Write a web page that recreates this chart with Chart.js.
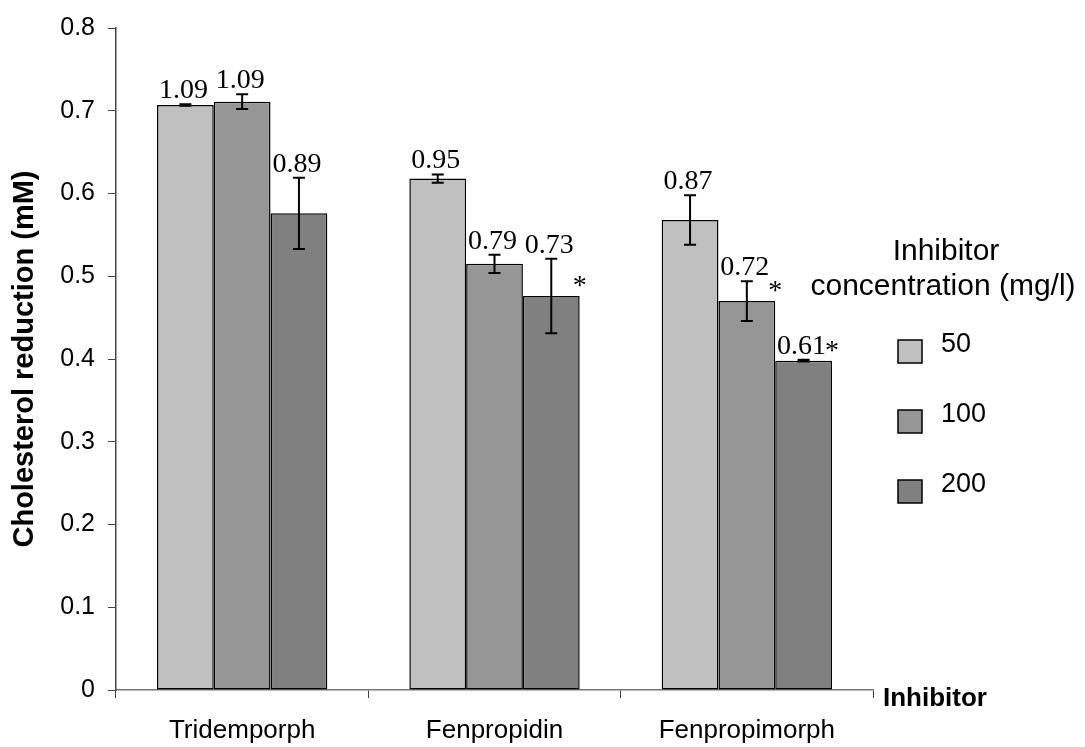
<!DOCTYPE html>
<html>
<head>
<meta charset="utf-8">
<script src="https://cdn.jsdelivr.net/npm/chart.js@4/dist/chart.umd.min.js"></script>
<style>
  body { margin: 0; background: #fff; }
  #wrap { width: 1085px; height: 747px; }
</style>
</head>
<body>
<div id="wrap"><canvas id="chart" width="1085" height="747"></canvas></div>
<script>
// data
const categories = ["Tridemporph", "Fenpropidin", "Fenpropimorph"];
const seriesNames = ["50", "100", "200"];
const conc50 = [0.707, 0.618, 0.568];
const conc100 = [0.711, 0.515, 0.470];
const conc200 = [0.576, 0.476, 0.398];
const err50 = [0.001, 0.005, 0.030];
const err100 = [0.009, 0.011, 0.024];
const err200 = [0.043, 0.045, 0.001];
const labels50 = ["1.09", "0.95", "0.87"];
const labels100 = ["1.09", "0.79", "0.72"];
const labels200 = ["0.89", "0.73", "0.61"];
const stars50 = [false, false, false];
const stars100 = [false, false, true];
const stars200 = [false, true, true];
const yTicks = [0, 0.1, 0.2, 0.3, 0.4, 0.5, 0.6, 0.7, 0.8];

const colors = ["#c0c0c0", "#969696", "#808080"];
const errs = [err50, err100, err200];
const valLabels = [labels50, labels100, labels200];
const stars = [stars50, stars100, stars200];

const sans = "'Liberation Sans', Arial, sans-serif";
const serif = "'Liberation Serif', 'Times New Roman', serif";

// error bars, value labels and stars
const extras = {
  id: "extras",
  afterDatasetsDraw(chart) {
    const ctx = chart.ctx;
    const y = chart.scales.y;
    ctx.save();
    chart.data.datasets.forEach((ds, di) => {
      const meta = chart.getDatasetMeta(di);
      meta.data.forEach((bar, i) => {
        const v = ds.data[i];
        const e = errs[di][i];
        const top = y.getPixelForValue(v + e);
        const bot = y.getPixelForValue(v - e);
        ctx.strokeStyle = "#000";
        ctx.lineWidth = 2;
        ctx.beginPath();
        ctx.moveTo(bar.x, top); ctx.lineTo(bar.x, bot);
        ctx.moveTo(bar.x - 6, top); ctx.lineTo(bar.x + 6, top);
        ctx.moveTo(bar.x - 6, bot); ctx.lineTo(bar.x + 6, bot);
        ctx.stroke();

        ctx.fillStyle = "#000";
        ctx.font = "28px " + serif;
        ctx.textAlign = "center";
        ctx.textBaseline = "alphabetic";
        ctx.fillText(valLabels[di][i], bar.x - 2, top - 6);

        if (stars[di][i]) {
          const half = bar.width / 2;
          ctx.font = "28px " + serif;
          ctx.textBaseline = "middle";
          ctx.fillText("*", bar.x + half, bar.y - 9);
        }
      });
    });

    // x axis name
    ctx.font = "bold 26px " + sans;
    ctx.textAlign = "left";
    ctx.textBaseline = "alphabetic";
    ctx.fillText("Inhibitor", 883, 706);

    // legend
    ctx.font = "30px " + sans;
    ctx.textAlign = "center";
    ctx.fillText("Inhibitor", 946, 260);
    ctx.fillText("concentration (mg/l)", 943, 295);
    ctx.font = "27px " + sans;
    ctx.textAlign = "left";
    ctx.textBaseline = "middle";
    seriesNames.forEach((name, k) => {
      const by = 340 + k * 70;
      ctx.fillStyle = colors[k];
      ctx.fillRect(898, by, 24, 23);
      ctx.strokeStyle = "#000";
      ctx.lineWidth = 1.5;
      ctx.strokeRect(898, by, 24, 23);
      ctx.fillStyle = "#000";
      ctx.fillText(name, 941, by + 5);
    });
    ctx.restore();
  }
};

new Chart(document.getElementById("chart").getContext("2d"), {
  type: "bar",
  data: {
    labels: categories,
    datasets: [
      { label: seriesNames[0], data: conc50, backgroundColor: colors[0] },
      { label: seriesNames[1], data: conc100, backgroundColor: colors[1] },
      { label: seriesNames[2], data: conc200, backgroundColor: colors[2] },
    ],
  },
  options: {
    responsive: false,
    animation: false,
    layout: { padding: { left: 0, right: 212, top: 24, bottom: 0 } },
    datasets: {
      bar: {
        categoryPercentage: 0.675,
        barPercentage: 1.0,
        borderColor: "#000",
        borderWidth: 1.5,
        borderSkipped: false,
      },
    },
    plugins: {
      legend: { display: false },
      tooltip: { enabled: false },
    },
    scales: {
      x: {
        offset: true,
        grid: { drawOnChartArea: false, drawTicks: true, tickLength: 8, offset: true, color: "#444" },
        border: { color: "#777", width: 1.5 },
        ticks: { color: "#000", font: { family: sans, size: 26 }, padding: 17 },
        afterFit: (s) => { s.height = 57; },
      },
      y: {
        min: 0,
        max: 0.8,
        afterBuildTicks: (s) => { s.ticks = yTicks.map((v) => ({ value: v })); },
        grid: { drawOnChartArea: false, drawTicks: true, tickLength: 8, color: "#444" },
        border: { color: "#444", width: 1.5 },
        ticks: {
          color: "#000",
          font: { family: sans, size: 25 },
          padding: 13,
          callback: (v) => String(Number(v.toFixed(1))),
        },
        title: {
          display: true,
          text: "Cholesterol reduction (mM)",
          color: "#000",
          font: { family: sans, size: 29, weight: "bold" },
          padding: { top: 8, bottom: 0 },
        },
        afterFit: (s) => { s.width = 116; },
      },
    },
  },
  plugins: [extras],
});
</script>
</body>
</html>
